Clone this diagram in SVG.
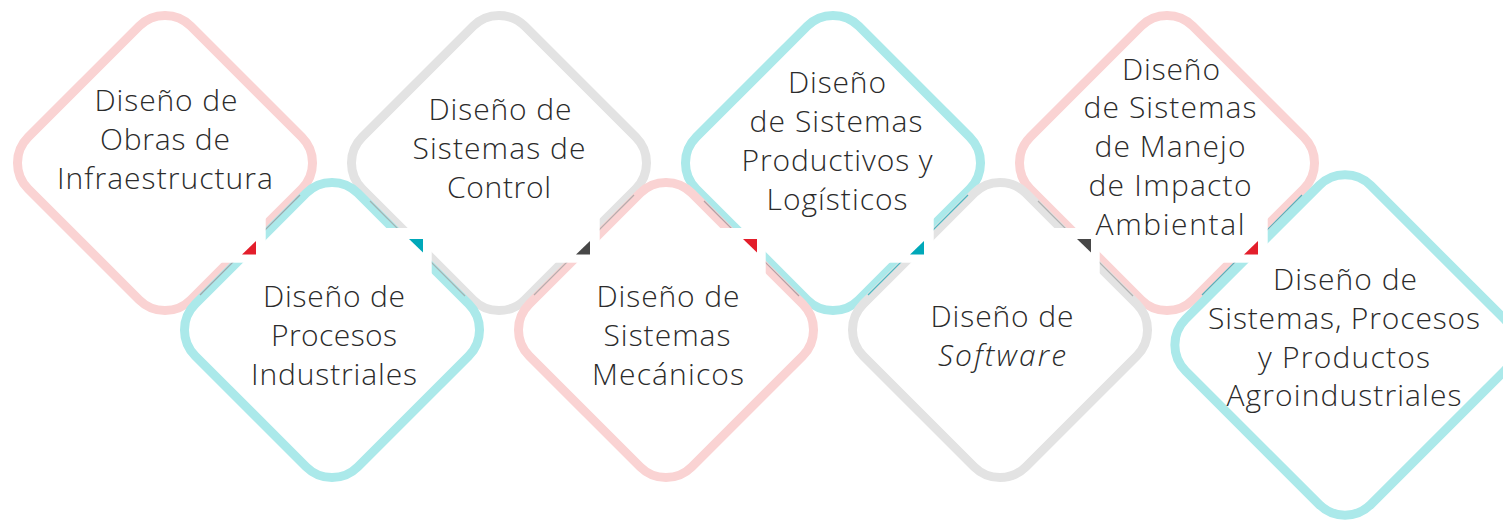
<svg xmlns="http://www.w3.org/2000/svg" width="1503" height="520" viewBox="0 0 1503 520">
<defs>
<style>
.d{fill:none;stroke-width:9}
.pk{stroke:#fad3d3}
.gy{stroke:#e3e3e3}
.cy{stroke:#abe9ea}
.t{font-family:"Open Sans","Liberation Sans",sans-serif;font-weight:300;font-size:30px;fill:#2b2b2b;text-anchor:middle}
.sh{stroke-width:1.2;fill:none;stroke-opacity:0.75}
.w{fill:#ffffff}
</style>
</defs>
<rect width="1503" height="520" fill="#ffffff"/>
<g id="diamonds">
<rect class="d pk" x="50" y="48" width="230" height="230" rx="36.5" transform="rotate(45 165 163)"/>
<rect class="d gy" x="384" y="48" width="230" height="230" rx="36.5" transform="rotate(45 499 163)"/>
<rect class="d cy" x="718" y="48" width="230" height="230" rx="36.5" transform="rotate(45 833 163)"/>
<rect class="d pk" x="1052" y="48" width="230" height="230" rx="36.5" transform="rotate(45 1167 163)"/>
<rect class="d cy" x="217" y="215" width="230" height="230" rx="36.5" transform="rotate(45 332 330)"/>
<rect class="d pk" x="551" y="215" width="230" height="230" rx="36.5" transform="rotate(45 666 330)"/>
<rect class="d gy" x="885" y="215" width="230" height="230" rx="36.5" transform="rotate(45 1000 330)"/>
<rect class="d cy" x="1214" y="214" width="262" height="262" rx="36.5" transform="rotate(45 1345 345)"/>
</g>
<g id="connectors">
<line class="sh" x1="200" y1="295" x2="300" y2="195" stroke="#9a9096"/>
<line class="sh" x1="370" y1="201" x2="465" y2="296" stroke="#a0a0a0"/>
<line class="sh" x1="534" y1="295" x2="634" y2="195" stroke="#a0a0a0"/>
<line class="sh" x1="704" y1="201" x2="799" y2="296" stroke="#9a9096"/>
<line class="sh" x1="868" y1="295" x2="968" y2="195" stroke="#18a8b5"/>
<line class="sh" x1="1038" y1="201" x2="1133" y2="296" stroke="#a0a0a0"/>
<line class="sh" x1="1202" y1="295" x2="1302" y2="195" stroke="#18a8b5"/>
<rect class="w" x="212" y="210" width="53.7" height="52.7"/>
<rect class="w" x="378" y="228" width="53.7" height="54"/>
<rect class="w" x="546" y="210" width="53.7" height="52.7"/>
<rect class="w" x="712" y="228" width="53.7" height="54"/>
<rect class="w" x="880" y="210" width="53.7" height="52.7"/>
<rect class="w" x="1046" y="228" width="53.7" height="54"/>
<rect class="w" x="1214" y="210" width="53.7" height="52.7"/>
<polygon points="256,241 256,254.5 242,254.5" fill="#e31e2b"/>
<polygon points="409,239 423,239 423,252.5" fill="#00a8b9"/>
<polygon points="590,241 590,254.5 576,254.5" fill="#474747"/>
<polygon points="743,239 757,239 757,252.5" fill="#e31e2b"/>
<polygon points="924,241 924,254.5 910,254.5" fill="#00a8b9"/>
<polygon points="1077,239 1091,239 1091,252.5" fill="#474747"/>
<polygon points="1258,241 1258,254.5 1244,254.5" fill="#e31e2b"/>
</g>
<g id="n1"><text class="t"><tspan x="166" y="111" textLength="143">Diseño de</tspan><tspan x="165" y="150" textLength="130">Obras de</tspan><tspan x="165" y="189" textLength="216">Infraestructura</tspan></text></g>
<g id="n2"><text class="t"><tspan x="500" y="120" textLength="143">Diseño de</tspan><tspan x="499" y="159" textLength="173">Sistemas de</tspan><tspan x="499" y="198" textLength="104">Control</tspan></text></g>
<g id="n3"><text class="t"><tspan x="837" y="93" textLength="98">Diseño</tspan><tspan x="836" y="132" textLength="173">de Sistemas</tspan><tspan x="837" y="171" textLength="191">Productivos y</tspan><tspan x="837" y="210" textLength="141">Logísticos</tspan></text></g>
<g id="n4"><text class="t"><tspan x="1171" y="80" textLength="98">Diseño</tspan><tspan x="1170" y="118" textLength="173">de Sistemas</tspan><tspan x="1170" y="157" textLength="151">de Manejo</tspan><tspan x="1170" y="196" textLength="163">de Impacto</tspan><tspan x="1170" y="235" textLength="149">Ambiental</tspan></text></g>
<g id="n5"><text class="t"><tspan x="334" y="307" textLength="142">Diseño de</tspan><tspan x="334" y="346" textLength="126">Procesos</tspan><tspan x="334" y="385" textLength="166">Industriales</tspan></text></g>
<g id="n6"><text class="t"><tspan x="668" y="307" textLength="143">Diseño de</tspan><tspan x="667" y="346" textLength="127">Sistemas</tspan><tspan x="668" y="385" textLength="152">Mecánicos</tspan></text></g>
<g id="n7"><text class="t"><tspan x="1002" y="327" textLength="143">Diseño de</tspan><tspan x="1002" y="366" textLength="128" font-style="italic">Software</tspan></text></g>
<g id="n8"><text class="t"><tspan x="1345" y="290" textLength="144">Diseño de</tspan><tspan x="1344" y="329" textLength="272">Sistemas, Procesos</tspan><tspan x="1344" y="368" textLength="172">y Productos</tspan><tspan x="1344" y="406" textLength="235">Agroindustriales</tspan></text></g>
</svg>
